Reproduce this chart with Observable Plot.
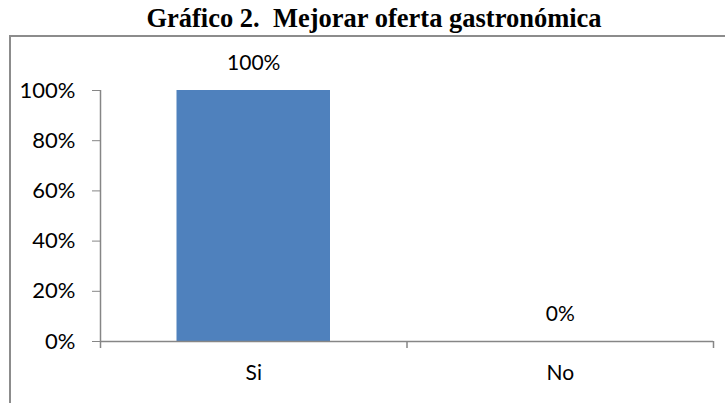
<!DOCTYPE html>
<html>
<head>
<meta charset="utf-8">
<script src="https://cdn.jsdelivr.net/npm/d3@7"></script>
<script src="https://cdn.jsdelivr.net/npm/@observablehq/plot@0.6"></script>
<style>
  html, body { margin: 0; padding: 0; background: #fff; width: 725px; height: 403px; overflow: hidden; position: relative; }
  #title { position: absolute; left: 0; width: 748px; text-align: center; font-family: "Liberation Serif", "Times New Roman", serif; font-weight: bold; font-size: 26.5px; line-height: 28px; top: 4px; color: #000; white-space: pre; }
  #frame { position: absolute; left: 9px; top: 35px; width: 716px; height: 368px; border-top: 2px solid #8c8c8c; border-left: 2px solid #8c8c8c; }
  #chart { position: absolute; left: 0; top: 0; }
</style>
</head>
<body>
<div id="title">Gráfico 2.  Mejorar oferta gastronómica</div>
<div id="frame"><div id="chart"></div></div>
<script>
const categories = ["Si", "No"];
const values = [1.00, 0.00];
const valueLabels = ["100%", "0%"];
const yTicks = [0, 0.2, 0.4, 0.6, 0.8, 1.0];

const data = categories.map((c, i) => ({cat: c, i, value: values[i], label: valueLabels[i]}));
const axisColor = "#868686";
const font = "Lato, 'Noto Sans', sans-serif";

const chart = Plot.plot({
  width: 714,
  height: 366,
  marginLeft: 89,
  marginRight: 12,
  marginTop: 53,
  marginBottom: 62,
  style: {fontFamily: font, fontSize: "22px", color: "#000", background: "#fff"},
  x: {type: "linear", domain: [0, categories.length], axis: null},
  y: {domain: [0, 1], axis: null},
  marks: [
    Plot.rectY(data, {x1: d => d.i, x2: d => d.i + 1, y1: 0, y2: "value", fill: "#4F81BD", insetLeft: 76.5, insetRight: 76.5}),
    Plot.axisY({ticks: yTicks, tickFormat: d => Math.round(d * 100) + "%", tickSize: 8, tickPadding: 17, stroke: axisColor, color: "#000", fontSize: 22, label: null}),
    Plot.ruleX([0], {stroke: axisColor, strokeWidth: 1.5}),
    Plot.axisX({ticks: d3.range(categories.length + 1), tickFormat: () => "", tickSize: 7, stroke: axisColor, strokeWidth: 1.5, label: null}),
    Plot.axisX({ticks: categories.map((c, i) => i + 0.5), tickFormat: t => categories[Math.floor(t)], tickSize: 0, tickPadding: 24, fontSize: 21, color: "#000", label: null}),
    Plot.ruleY([0], {stroke: axisColor, strokeWidth: 1.5}),
    Plot.text(data, {x: d => d.i + 0.5, y: "value", text: "label", dy: -27, lineAnchor: "middle", fontSize: 21, fill: "#000"})
  ]
});
document.getElementById("chart").appendChild(chart);
</script>
</body>
</html>
